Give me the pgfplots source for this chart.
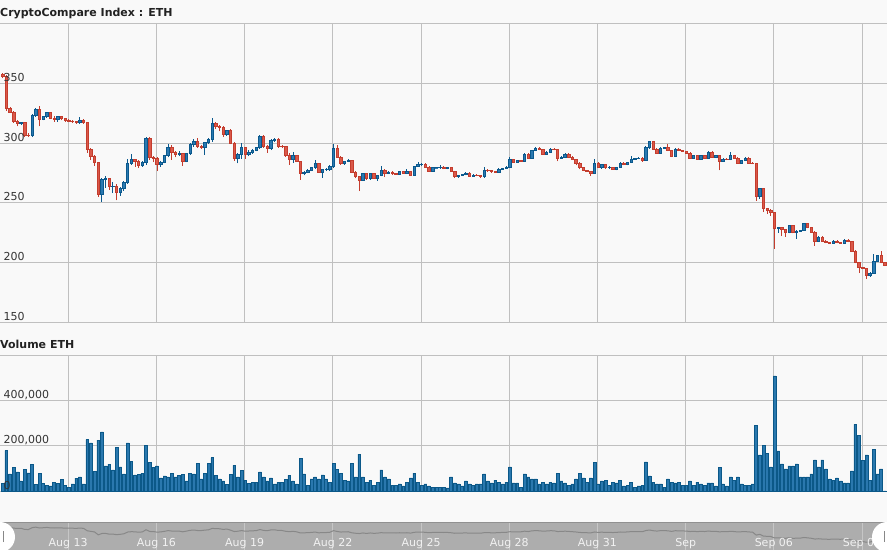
\documentclass[border=0pt]{standalone}
\usepackage{fontspec}
\setmainfont{DejaVu Sans}
\usepackage{pgfplots}
\pgfplotsset{compat=1.18}
\usepackage{pgfplotstable}

\definecolor{pagebg}{HTML}{F9F9F9}
\definecolor{gridc}{HTML}{C0C0C0}
\definecolor{upfill}{HTML}{2A79B1}
\definecolor{upline}{HTML}{0B598D}
\definecolor{dnfill}{HTML}{DA594A}
\definecolor{dnline}{HTML}{C43D2E}
\definecolor{volfill}{HTML}{2A78AE}
\definecolor{volline}{HTML}{0B5888}
\definecolor{navbg}{HTML}{ADADAD}
\definecolor{navgrid}{HTML}{C6C6C6}
\definecolor{navline}{HTML}{888888}
\definecolor{navedge}{HTML}{919191}
\definecolor{labc}{HTML}{333333}
\definecolor{titlec}{HTML}{222222}

% ETH, 3-hour candles from Aug 10 to Sep 09: open high low close, volume in thousands
\pgfplotstableread{
o h l c v
357.5 359 354 355.5 35
355.5 357 327 329 179
329 330 325 326 77
326 327 317 318.5 105
318.5 319 314 316 86
316 318 315 317.5 46
317.5 318 305 306.5 98
306.5 308 305 306 81
306 324 305 323 120
323 329 322 328 31
328 331 314 320 80
320 323 319 322.5 36
322.5 326 321 325.5 27
325.5 326 320 321 24
321 323 318 320 40
320 323 318 322 36
322 323 319 320.5 53
320.5 321 318 319 27
319 320 317.5 318.5 18
318.5 319 317 318 33
318 318.5 316 317 58
317 322 316 319 64
319 320 316 317 33
317 318 292 294.5 228
294.5 296 286 289 213
289 290 281 283.5 89
283.5 284 255 257 226
257 271 251 269.5 262
269.5 272 262.5 270 112
270 271 261 263.5 120
263.5 267 258 264 95
264 266 252 258.5 192
258.5 263 256 262 108
262 268 260 267 77
267 287 266 283 213
283 291 282 286 133
286 287 280 285 73
285 286 279 281 75
281 285 280 284 80
284 305 282 304 204
304 305 286 288 129
288 289 284 287 105
287 288 276.5 282 112
282 285 280 284 59
284 290 283 289.5 68
289.5 299.5 288 296 64
296 298 286 292 80
292 293 288 290.5 64
290.5 293 289 291.5 71
291.5 292 281 285 75
285 292 284 291.5 46
291.5 300 290 298.5 80
298.5 303 297 301.5 77
301.5 304 296 297 124
297 298 295 296.5 55
296.5 301 290 300.5 80
300.5 304 299 303 124
303 321 301 316.5 148
316.5 318 312 314 71
314 315 310 313 55
313 314 305 307 46
307 311 306 310.5 31
310.5 312 299 300 75
300 301 285 287.5 115
287.5 292 283 290.5 64
290.5 300 287 296 93
296 297 287 290.5 49
290.5 294 289 292.5 36
292.5 295 291 294 41
294 297 293 296 41
296 307 295 305.8 86
305.8 307 296 297.5 64
297.5 298 292 295.5 46
295.5 303 294 302.5 59
302.5 304 301 303 33
303 304 296 297.5 40
297.5 298.5 295.5 297 40
297 297.5 288.5 289.7 53
289.7 291.7 282 286.1 71
286.1 292.2 283.3 289.4 46
289.4 290 284 284.7 33
284.7 285.3 269.4 274.4 144
274.4 276.4 273 275.6 77
275.6 278 274.5 277.2 28
277.2 280 276.5 279.2 55
279.2 285.6 278.5 282.8 64
282.8 283.5 275 275.6 55
275.6 278.5 270.8 277.8 73
277.8 279 276.5 278.3 55
278.3 281.5 277 280.6 41
280.6 299.4 279.5 295.8 124
295.8 298.6 287.5 288.3 98
288.3 289 282 282.8 80
282.8 285.3 282 284.7 50
284.7 286.5 284 285.6 46
285.6 286 275 275.8 124
275.8 276.5 270.5 271.7 64
271.7 272.2 259.7 268.9 164
268.9 275 268.3 274.4 64
274.4 275.3 269.4 270 41
270 275 269.4 274.4 50
274.4 275 270 270.8 28
270.8 273.6 268.3 272.8 41
272.8 280.6 272 277.2 95
277.2 278 271.5 274.4 64
274.4 276.5 274 275.6 55
275.6 276.4 273.6 274.4 28
274.4 275 273.3 274 28
274 277 273.6 276.4 33
276.4 277 274.4 275 24
275 278.3 274.4 276.4 40
276.4 277 272.5 273.1 59
273.1 281 272.5 280.6 80
280.6 283.9 280 281.9 41
281.9 283.3 281 282.5 28
282.5 283 279.5 280 33
280 280.6 275.8 276.4 24
276.4 279.7 275.8 279.2 19
279.2 280 278.6 279.4 19
279.4 281.4 278.6 279.7 19
279.7 280.6 278 278.6 19
278.6 279.7 278 279.2 15
279.2 279.7 275.8 276.4 64
276.4 277 271 271.7 37
271.7 273.3 271 272.8 33
272.8 274.2 272.2 273.6 24
273.6 275.6 273 275 46
275 275.6 271.7 272.2 33
272.2 274 271.7 273.3 28
273.3 274 272 272.5 33
272.5 273 271.1 271.9 33
271.9 280 271.1 277.2 77
277.2 278 276 276.7 46
276.7 277.2 275.3 276.1 37
276.1 276.7 275 275.8 50
275.8 278.9 275.3 278.3 41
278.3 279.4 277.8 278.9 33
278.9 280.6 278.3 280 41
280 288.3 279.4 286.1 108
286.1 286.7 283.3 283.9 37
283.9 285.8 283.3 285.3 37
285.3 285.8 284.4 285 19
285 291.4 284.4 290.8 77
290.8 291.4 286.7 287.5 64
287.5 294.4 287 293.9 55
293.9 296.7 293.3 295.8 55
295.8 296.4 293.9 294.4 33
294.4 295 290 290.8 41
290.8 293.1 290.3 292.5 33
292.5 295.8 292 295 41
295 295.6 293.9 294.4 37
294.4 295 284.7 287.5 80
287.5 289 287 288.3 46
288.3 291.4 287.8 290.8 37
290.8 291.4 287.8 288.3 28
288.3 288.9 285.6 286.1 33
286.1 286.7 281.4 283.3 55
283.3 283.9 278 279.2 80
279.2 279.7 276.4 277.2 59
277.2 277.8 275.8 276.4 41
276.4 277 272.2 275 59
275 286.7 274.4 283.3 126
283.3 283.9 279 279.7 33
279.7 282.2 278.6 281.7 46
281.7 282.2 278.6 279.2 50
279.2 280.6 278.6 279.7 28
279.7 280.3 277.8 278.3 41
278.3 280.3 277.2 279.7 37
279.7 284.2 279.2 283.3 50
283.3 284.4 281.4 281.9 24
281.9 284.4 281.4 283.9 28
283.9 288.9 283.3 286.7 41
286.7 287.8 286.1 287.2 19
287.2 288.3 286.7 287.5 24
287.5 288 284.4 285.6 28
285.6 297.2 285 296.7 130
296.7 302 295 301.4 68
301.4 301.9 294.4 295 41
295 295.6 291.1 291.7 33
291.7 296.4 291 295.8 33
295.8 297 295 296.4 19
296.4 299.2 293.3 293.9 55
293.9 294.4 288.3 288.9 41
288.9 295.6 288.3 295 37
295 295.6 293.3 293.9 41
293.9 294.4 292.5 293.1 28
293.1 293.6 291.1 291.7 28
291.7 292.5 287 287.5 46
287.5 290 287 289.4 28
289.4 290 286.1 286.7 41
286.7 290 286.1 289.4 33
289.4 290 287 287.5 28
287.5 293.1 287 292.5 37
292.5 293.1 287.8 288.3 37
288.3 290 287.8 289.4 24
289.4 290 277.2 284.7 104
284.7 287.2 284.2 286.7 33
286.7 287.2 285.6 286.1 24
286.1 292.5 285.6 289.4 64
289.4 290 287 287.5 50
287.5 288 282.5 283.3 64
283.3 286.1 282.8 285.6 33
285.6 288 285 287.5 28
287.5 288 282.8 283.3 28
283.3 283.9 282.2 283 33
283 283.6 251.9 255 290
255 262.2 253.3 261.7 161
261.7 262.2 242.2 245 201
245 246 241 243.6 166
243.6 244.4 238.9 241.7 108
241.7 242.2 211.7 228.3 508
228.3 230 225 229.2 178
229.2 230 222.2 227.8 121
227.8 228.3 221.7 225 99
225 231.7 224.4 231.1 112
231.1 231.7 224.4 225 112
225 227 220 226.4 121
226.4 227.5 225.8 226.9 64
226.9 233.3 226.4 232.8 64
232.8 233.3 228.6 229.2 64
229.2 229.7 225 225.6 77
225.6 226.1 213.9 218.1 139
218.1 222 217.5 221.4 108
221.4 222.2 217.5 218.1 139
218.1 218.6 216.1 216.7 99
216.7 217.2 215.6 216.1 55
216.1 218.6 215.6 218.1 50
218.1 218.6 216.1 216.7 59
216.7 217.2 215.8 216.4 46
216.4 219.4 215.8 218.9 37
218.9 219.4 216.9 217.5 37
217.5 218 209.2 209.7 90
209.7 210.3 199.4 200 295
200 200.6 191.1 195.8 246
195.8 196.4 194.4 195 135
195 195.6 186.1 188.9 161
188.9 191.7 188.3 191.1 50
191.1 206.9 190.6 200.8 184
200.8 206.7 200.3 206.1 77
206.1 209.7 199.4 200 99
200 200.6 197 197.8 2
}\eth

\pgfdeclareplotmark{nothing}{}

\pgfplotsset{
  panel/.style={
    scale only axis, width=887pt,
    xmin=-0.735, xmax=240.6,
    axis line style={draw=none}, major tick length=0pt,
    xtick={17.82,41.82,65.82,89.82,113.82,137.82,161.82,185.82,209.82,233.82},
  },
  ticklab/.style={anchor=base west, inner sep=0pt, xshift=3.5pt, yshift=2pt,
    text=labc, font=\fontsize{11}{13}\selectfont},
}

\begin{document}
\begin{tikzpicture}
\useasboundingbox (0pt,0pt) rectangle (887pt,550pt);
\fill[pagebg] (0pt,0pt) rectangle (887pt,550pt);

% price panel: 298.8pt for 250 units, so 1.1952pt per unit
\begin{axis}[panel, at={(0pt,227.7pt)}, anchor=south west, height=298.8pt,
  ymin=150, ymax=400, ytick={150,200,250,300,350,400},
  xticklabels={}, yticklabels={},
  xmajorgrids, ymajorgrids, grid style={gridc, line width=1pt}]
\addplot[scatter, only marks, mark=nothing,
  visualization depends on={(min(\thisrow{o},\thisrow{c})-\thisrow{l})*1.1952 \as \ybot},
  visualization depends on={(max(\thisrow{o},\thisrow{c})-\thisrow{l})*1.1952 \as \ytop},
  visualization depends on={(\thisrow{h}-\thisrow{l})*1.1952 \as \yhi},
  visualization depends on={(\thisrow{c}<\thisrow{o}) \as \isdown},
  scatter/@pre marker code/.code={%
    \ifdim\isdown pt>0.5pt\def\candf{dnfill}\def\candl{dnline}\else\def\candf{upfill}\def\candl{upline}\fi
    \draw[draw=\candl, line width=1pt] (0pt,0pt) -- (0pt,\yhi pt);
    \filldraw[fill=\candf, draw=\candl, line width=0.8pt] (-1.2pt,\ybot pt) rectangle (1.2pt,\ytop pt);
  },
  scatter/@post marker code/.code={}]
  table[x expr=\coordindex, y=l]{\eth};
\end{axis}

% volume panel
\begin{axis}[panel, at={(0pt,58.6pt)}, anchor=south west, height=136.4pt,
  ymin=0, ymax=600, ytick={0,200,400,600},
  xticklabels={}, yticklabels={},
  xmajorgrids, ymajorgrids, grid style={gridc, line width=1pt}]
\addplot[ybar, bar width=2.8pt, bar shift=0pt, fill=volfill, draw=volline, line width=0.6pt]
  table[x expr=\coordindex, y=v]{\eth};
\end{axis}

% navigator
\begin{axis}[panel, at={(0pt,0pt)}, anchor=south west, height=28pt,
  ymin=117.6, ymax=375.2, ytick=\empty, xticklabels={},
  axis background/.style={fill=navbg},
  xmajorgrids, grid style={navgrid, line width=1pt}]
\addplot[navline, line width=1pt, mark=none] table[x expr=\coordindex, y=c]{\eth};
\end{axis}

% tick labels drawn over the plots
\begin{axis}[panel, at={(0pt,227.7pt)}, anchor=south west, height=298.8pt,
  ymin=150, ymax=400, xtick=\empty, ytick={150,200,250,300,350},
  yticklabels={150,200,250,300,350}, yticklabel style={ticklab}]
\end{axis}
\begin{axis}[panel, at={(0pt,58.6pt)}, anchor=south west, height=136.4pt,
  ymin=0, ymax=600, xtick=\empty, ytick={0,200,400},
  yticklabels={0,{200,000},{400,000}}, yticklabel style={ticklab}]
\end{axis}
\begin{axis}[panel, at={(0pt,0pt)}, anchor=south west, height=28pt,
  ymin=0, ymax=1, ytick=\empty,
  xticklabels={Aug 13,Aug 16,Aug 19,Aug 22,Aug 25,Aug 28,Aug 31,Sep,Sep 06,Sep 09},
  xticklabel style={anchor=base, inner sep=0pt, yshift=4pt, text=white!95!black,
    font=\fontsize{11}{13}\selectfont}]
\end{axis}

\draw[navedge, line width=1pt] (0pt,28pt) -- (887pt,28pt);
\fill[white] (0pt,13pt) circle[radius=15pt];
\fill[white] (887pt,13pt) circle[radius=15pt];
\draw[navline, line width=1pt] (3pt,8pt) -- (3pt,19pt);
\draw[navline, line width=1pt] (884pt,8pt) -- (884pt,19pt);

\node[anchor=base west, inner sep=0pt, text=titlec, font=\bfseries\fontsize{11}{13}\selectfont]
  at (0pt,533pt) {CryptoCompare Index : ETH};
\node[anchor=base west, inner sep=0pt, text=titlec, font=\bfseries\fontsize{11}{13}\selectfont]
  at (0pt,201.7pt) {Volume ETH};
\end{tikzpicture}
\end{document}
